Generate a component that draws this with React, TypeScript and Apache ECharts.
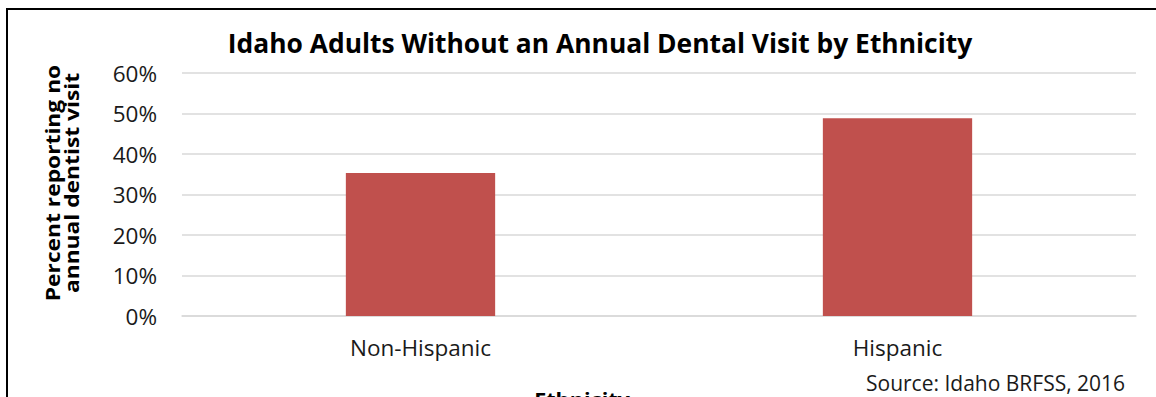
import React, { useEffect, useRef } from "react";
import * as echarts from "echarts";

const categories = ["Non-Hispanic", "Hispanic"];
const percentNoVisit = [35.3, 48.8];
const yTicks = { min: 0, max: 60, interval: 10 };
const titleText = "Idaho Adults Without an Annual Dental Visit by Ethnicity";
const yAxisTitle = "Percent reporting no\nannual dentist visit";
const xAxisTitle = "Ethnicity";
const sourceText = "Source: Idaho BRFSS, 2016";

const FONT = "'Open Sans', sans-serif";

export default function App() {
  const ref = useRef<HTMLDivElement>(null);
  useEffect(() => {
    if (!ref.current) return;
    const chart = echarts.init(ref.current, undefined, { renderer: "svg" });
    chart.setOption({
      animation: false,
      backgroundColor: "#ffffff",
      grid: { left: 182, right: 20, top: 73, bottom: 81, outerBoundsMode: "none" },
      xAxis: {
        type: "category",
        data: categories,
        axisLine: { lineStyle: { color: "#d9d9d9", width: 1.5 } },
        axisTick: { show: false },
        axisLabel: { color: "#1a1a1a", fontSize: 22.5, fontFamily: FONT, margin: 20 },
      },
      yAxis: {
        type: "value",
        min: yTicks.min,
        max: yTicks.max,
        interval: yTicks.interval,
        axisLine: { show: false },
        axisTick: { show: false },
        splitLine: { lineStyle: { color: "#d9d9d9", width: 1.5 } },
        axisLabel: { color: "#1a1a1a", fontSize: 22.5, fontFamily: FONT, margin: 25, formatter: "{value}%" },
      },
      series: [
        {
          type: "bar",
          data: percentNoVisit,
          barWidth: "31.3%",
          itemStyle: { color: "#c0504d" },
        },
      ],
      graphic: [
        {
          type: "rect",
          shape: { x: 7, y: 9, width: 1300, height: 600 },
          style: { fill: "none", stroke: "#000", lineWidth: 2 },
          silent: true,
        },
        {
          type: "text",
          x: 600,
          y: 43,
          style: {
            text: titleText,
            fill: "#000",
            font: `bold 26.4px ${FONT}`,
            textAlign: "center",
            textVerticalAlign: "middle",
          },
        },
        {
          type: "text",
          x: 62,
          y: 183,
          rotation: Math.PI / 2,
          scaleX: 1.2,
          style: {
            text: yAxisTitle,
            fill: "#000",
            font: `bold 19px ${FONT}`,
            textAlign: "center",
            textVerticalAlign: "middle",
            lineHeight: 19,
          },
        },
        {
          type: "text",
          x: 582,
          y: 399,
          scaleX: 1.08,
          style: {
            text: xAxisTitle,
            fill: "#000",
            font: `bold 20px ${FONT}`,
            textAlign: "center",
            textVerticalAlign: "middle",
          },
        },
        {
          type: "text",
          x: 866,
          y: 383,
          style: {
            text: sourceText,
            fill: "#1a1a1a",
            font: `21px ${FONT}`,
            textAlign: "left",
            textVerticalAlign: "middle",
          },
        },
      ],
    });
    return () => chart.dispose();
  }, []);
  return (
    <div
      ref={ref}
      style={{ position: "fixed", left: 0, top: 0, width: 1156, height: 397 }}
    />
  );
}
